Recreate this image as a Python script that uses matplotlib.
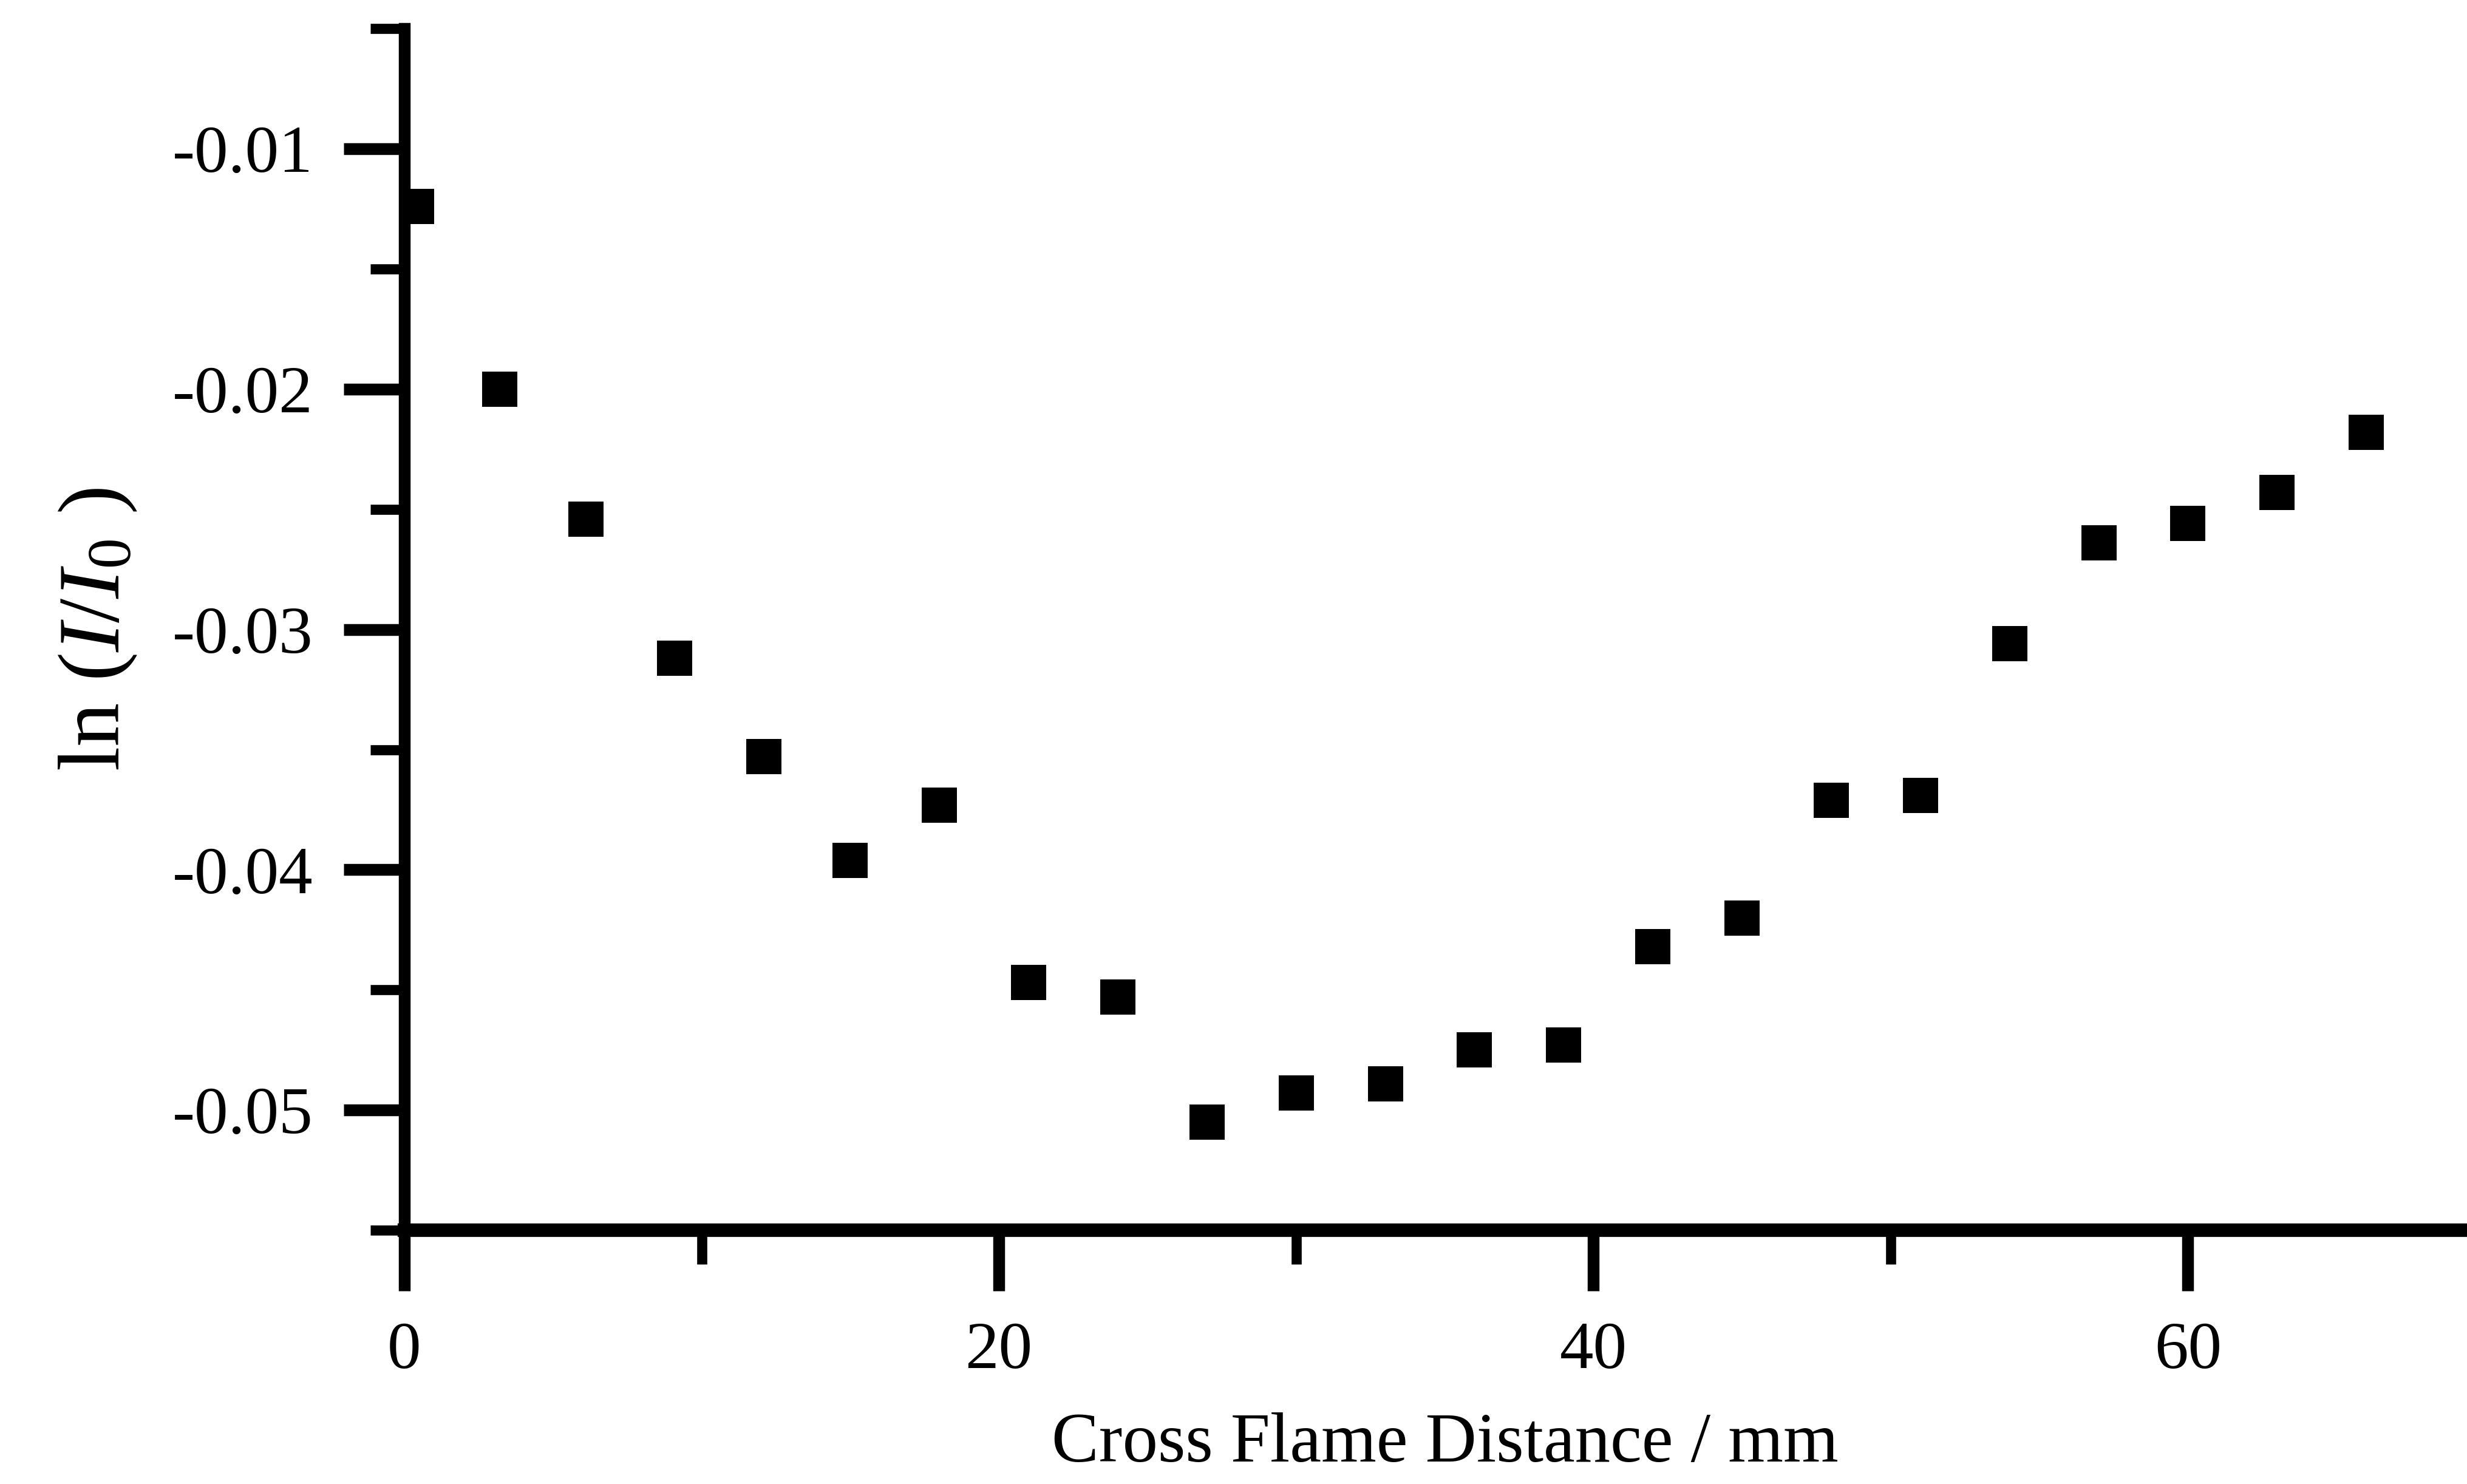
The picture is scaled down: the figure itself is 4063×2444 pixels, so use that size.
import numpy as np
import matplotlib
matplotlib.use('Agg')
import matplotlib.pyplot as plt
from matplotlib.ticker import MultipleLocator, FormatStrFormatter

# data
distance = [0.4, 3.2, 6.1, 9.1, 12.1, 15.0, 18.0, 21.0, 24.0, 27.0, 30.0, 33.0,
            36.0, 39.0, 42.0, 45.0, 48.0, 51.0, 54.0, 57.0, 60.0, 63.0, 66.0]
ln_ratio = [-0.0124, -0.0200, -0.0254, -0.0312, -0.0353, -0.0396, -0.0373, -0.0447,
            -0.0453, -0.0505, -0.0493, -0.0489, -0.0475, -0.0473, -0.0432, -0.0420,
            -0.0371, -0.0369, -0.0306, -0.0264, -0.0256, -0.0243, -0.0218]

plt.rcParams['font.family'] = ['Liberation Serif', 'DejaVu Serif']
plt.rcParams['mathtext.fontset'] = 'custom'
plt.rcParams['mathtext.rm'] = 'Liberation Serif'
plt.rcParams['mathtext.it'] = 'Liberation Serif:italic'
plt.rcParams['axes.unicode_minus'] = False

fig = plt.figure(figsize=(20.315, 12.22), dpi=200)
ax = fig.add_axes([0.1639, 0.1710, 0.8435, 0.8097])

ax.plot(distance, ln_ratio, 's', color='black', markersize=21, markeredgewidth=0)

ax.set_xlim(0, 70)
ax.set_ylim(-0.055, -0.005)

ax.spines['top'].set_visible(False)
ax.spines['right'].set_visible(False)
ax.spines['left'].set_linewidth(7)
ax.spines['bottom'].set_linewidth(8)

ax.xaxis.set_major_locator(MultipleLocator(20))
ax.xaxis.set_minor_locator(MultipleLocator(10))
ax.yaxis.set_major_locator(MultipleLocator(0.01))
ax.yaxis.set_minor_locator(MultipleLocator(0.005))
ax.yaxis.set_major_formatter(FormatStrFormatter('%.2f'))

ax.tick_params(which='major', direction='out', length=36, width=7, labelsize=40, pad=18)
ax.tick_params(which='minor', direction='out', length=20, width=6)
ax.tick_params(axis='y', which='major', pad=18)

ax.set_xlabel('Cross Flame Distance / mm', fontsize=42, labelpad=18)
ax.set_ylabel(r'ln ($I/I_{0}$ )', fontsize=52, labelpad=20)

fig.savefig('out.png', dpi=200)
